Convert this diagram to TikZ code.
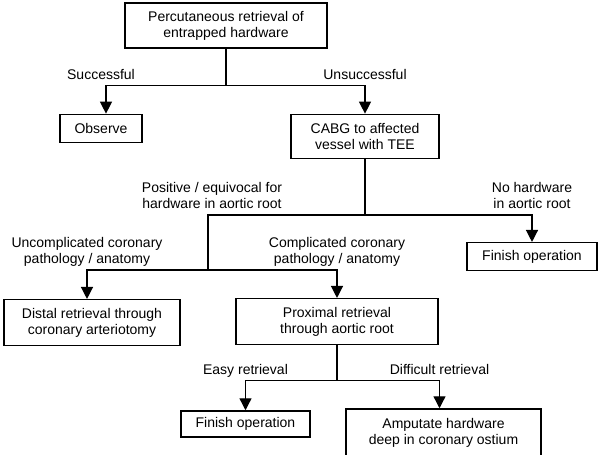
\documentclass[tikz,border=0pt]{standalone}
\usepackage{fontspec}
\setmainfont{Liberation Sans}
\usetikzlibrary{arrows.meta, positioning}

\begin{document}
\begin{tikzpicture}[
		x=1pt, y=1pt,
		every node/.style={font=\fontsize{14}{16}\selectfont},
		flowbox/.style={draw=black, line width=1.3pt, align=center,
			inner sep=0pt, minimum height=28pt},
		arr/.style={-{Triangle[length=12pt, width=12pt]}, line width=1.3pt},
		link/.style={line width=1.3pt},
		lbl/.style={align=center, inner sep=0pt, text depth=3pt,
			anchor=south, yshift=3pt},
		]
		\useasboundingbox (0,0) rectangle (600,-455);

		% Start
		\node[flowbox, minimum width=202pt, minimum height=45pt] (retr) at (226,-25.5)
		{Percutaneous retrieval of\\entrapped hardware};

		% First split
		\node[flowbox, minimum width=82pt, below=65pt of retr, xshift=-125pt] (obs)
		{Observe};
		\node[flowbox, minimum width=148pt, minimum height=44pt,
			below=65pt of retr, xshift=139pt] (cabg)
		{CABG to affected\\vessel with TEE};

		% After CABG
		\node[flowbox, minimum width=130pt, below=83pt of cabg, xshift=167pt] (fin1)
		{Finish operation};
		\node[flowbox, minimum width=176pt, minimum height=46pt,
			below=140pt of cabg, xshift=-273pt] (dist)
		{Distal retrieval through\\coronary arteriotomy};
		\node[flowbox, minimum width=202pt, minimum height=46pt,
			below=139pt of cabg, xshift=-28pt] (prox)
		{Proximal retrieval\\through aortic root};

		% After proximal retrieval
		\node[flowbox, minimum width=129pt, minimum height=26pt,
			below=65pt of prox, xshift=-91.5pt] (fin2)
		{Finish operation};
		\node[flowbox, minimum width=195pt, minimum height=47pt,
			below=63pt of prox, xshift=106.5pt] (amp)
		{Amputate hardware\\deep in coronary ostium};

		% Junctions and arrow ends
		\coordinate[below=37pt of retr] (j1);
		\coordinate[below=56pt of cabg] (j2);
		\coordinate[below=55pt of j2, xshift=-157pt] (j3);
		\coordinate[below=35pt of prox] (j4);
		\coordinate (obsin) at ([xshift=5pt]obs.north);
		\coordinate (distin) at ([xshift=-5pt]dist.north);
		\coordinate (ampin) at ([xshift=-4pt]amp.north);

		% Arrows
		\draw[link] (retr) -- (j1);
		\draw[arr] (j1) -| (obsin);
		\draw[arr] (j1) -| (cabg.north);
		\draw[link] (cabg) -- (j2);
		\draw[arr] (j2) -| (fin1.north);
		\draw[link] (j2) -| (j3);
		\draw[arr] (j3) -| (distin);
		\draw[arr] (j3) -| (prox.north);
		\draw[link] (prox) -- (j4);
		\draw[arr] (j4) -| (fin2.north);
		\draw[arr] (j4) -| (ampin);

		% Branch labels
		\node[lbl] (succ) at (obs.north |- j1) {Successful};
		\node[lbl] (unsucc) at (cabg.north |- j1) {Unsuccessful};
		\node[lbl] (pos) at ([xshift=4pt]j3 |- j2) {Positive / equivocal for\\hardware in aortic root};
		\node[lbl] (nohw) at (fin1.north |- j2) {No hardware\\in aortic root};
		\node[lbl] (uncomp) at (distin |- j3) {Uncomplicated coronary\\pathology / anatomy};
		\node[lbl] (comp) at (prox.north |- j3) {Complicated coronary\\pathology / anatomy};
		\node[lbl] (easy) at (fin2.north |- j4) {Easy retrieval};
		\node[lbl] (diff) at (ampin |- j4) {Difficult retrieval};
	\end{tikzpicture}
\end{document}
